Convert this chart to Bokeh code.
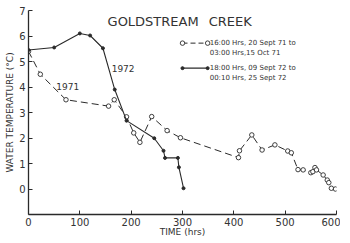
from bokeh.plotting import figure
from bokeh.models import Label, FixedTicker, Range1d
from bokeh.embed import file_html
from bokeh.resources import INLINE

# ---- data ----
hours_71 = [0, 23, 73, 156, 167, 191, 205, 217, 240, 270, 296, 409, 411, 435, 455,
            480, 505, 512, 525, 535, 550, 554, 558, 561, 574, 582, 585, 590, 598]
temp_71 = [5.4, 4.5, 3.5, 3.25, 3.5, 2.83, 2.2, 1.83, 2.84, 2.29, 2.01, 1.23, 1.5, 2.12, 1.53,
           1.73, 1.49, 1.42, 0.76, 0.75, 0.64, 0.68, 0.84, 0.75, 0.55, 0.35, 0.25, 0.03, 0.0]

hours_72 = [0, 50, 100, 120, 145, 168, 191, 245, 263, 266, 291, 293, 302]
temp_72 = [5.45, 5.55, 6.1, 6.02, 5.52, 3.9, 2.68, 1.99, 1.5, 1.22, 1.22, 0.85, 0.03]

x_ticks = [0, 100, 200, 300, 400, 500, 600]
y_ticks = [0, 1, 2, 3, 4, 5, 6, 7]

title_words = ["GOLDSTREAM", "CREEK"]
legend_71 = ["16:00 Hrs, 20 Sept 71 to", "03:00 Hrs,15 Oct 71"]
legend_72 = ["18:00 Hrs, 09 Sept 72 to", "00:10 Hrs, 25 Sept 72"]
x_title = "TIME (hrs)"
y_title = "WATER TEMPERATURE (°C)"

# ---- style ----
INK = "#2a2a2a"
TXT = "#333333"
FONT = "DejaVu Sans"

p = figure(width=340, height=242, output_backend="svg", toolbar_location=None,
           x_range=Range1d(0, 600), y_range=Range1d(-1, 7),
           min_border_left=28, min_border_right=4, min_border_top=10, min_border_bottom=28)
p.outline_line_color = None
p.xgrid.visible = False
p.ygrid.visible = False
p.background_fill_color = "white"
p.border_fill_color = "white"

for ax, ticks in ((p.xaxis, x_ticks), (p.yaxis, y_ticks)):
    ax.ticker = FixedTicker(ticks=ticks)
    ax.major_tick_in = 4
    ax.major_tick_out = 0
    ax.minor_tick_line_color = None
    ax.axis_line_color = INK
    ax.axis_line_width = 1.3
    ax.major_tick_line_color = INK
    ax.major_label_text_font = FONT
    ax.major_label_text_font_size = "10px"
    ax.major_label_text_color = TXT
    ax.axis_label_text_font = FONT
    ax.axis_label_text_font_size = "9px"
    ax.axis_label_text_font_style = "normal"
    ax.axis_label_text_color = TXT
p.xaxis.major_label_standoff = 3
p.yaxis.major_label_standoff = 3
p.xaxis.axis_label = x_title
p.yaxis.axis_label = y_title
p.xaxis.axis_label_standoff = -2
p.yaxis.axis_label_standoff = 1

# 1971 series: dashed with open circles
p.line(hours_71, temp_71, line_color=INK, line_width=1, line_dash="7 4")
p.scatter(hours_71, temp_71, marker="circle", size=4.5, fill_color="white",
          line_color=INK, line_width=0.9)

# 1972 series: solid with filled dots
p.line(hours_72, temp_72, line_color=INK, line_width=1.1)
p.scatter(hours_72, temp_72, marker="circle", size=3, fill_color=INK, line_color=INK)

# legend keys (layout positions in data space)
lx0, lx1 = 300, 349
ly1, ly2 = 5.72, 4.74
p.line([lx0, lx1], [ly1, ly1], line_color=INK, line_width=1, line_dash="5 3")
p.scatter([lx0, lx1], [ly1, ly1], marker="circle", size=4.5, fill_color="white",
          line_color=INK, line_width=0.9)
p.line([lx0, lx1], [ly2, ly2], line_color=INK, line_width=1.1)
p.scatter([lx0, lx1], [ly2, ly2], marker="circle", size=3, fill_color=INK, line_color=INK)

def txt(x, y, s, size, align="left", baseline="middle"):
    p.add_layout(Label(x=x, y=y, text=s, text_font=FONT, text_font_size=size,
                       text_color=TXT, text_align=align, text_baseline=baseline))

txt(353, ly1, legend_71[0], "7px")
txt(353, ly1 - 0.4, legend_71[1], "7px")
txt(353, ly2, legend_72[0], "7px")
txt(353, ly2 - 0.38, legend_72[1], "7px")

txt(154, 6.57, title_words[0], "13px")
txt(351, 6.57, title_words[1], "13px")
txt(162, 4.73, "1972", "9px")
txt(54, 4.02, "1971", "9px")

open("out.html", "w").write(file_html(p, INLINE))
